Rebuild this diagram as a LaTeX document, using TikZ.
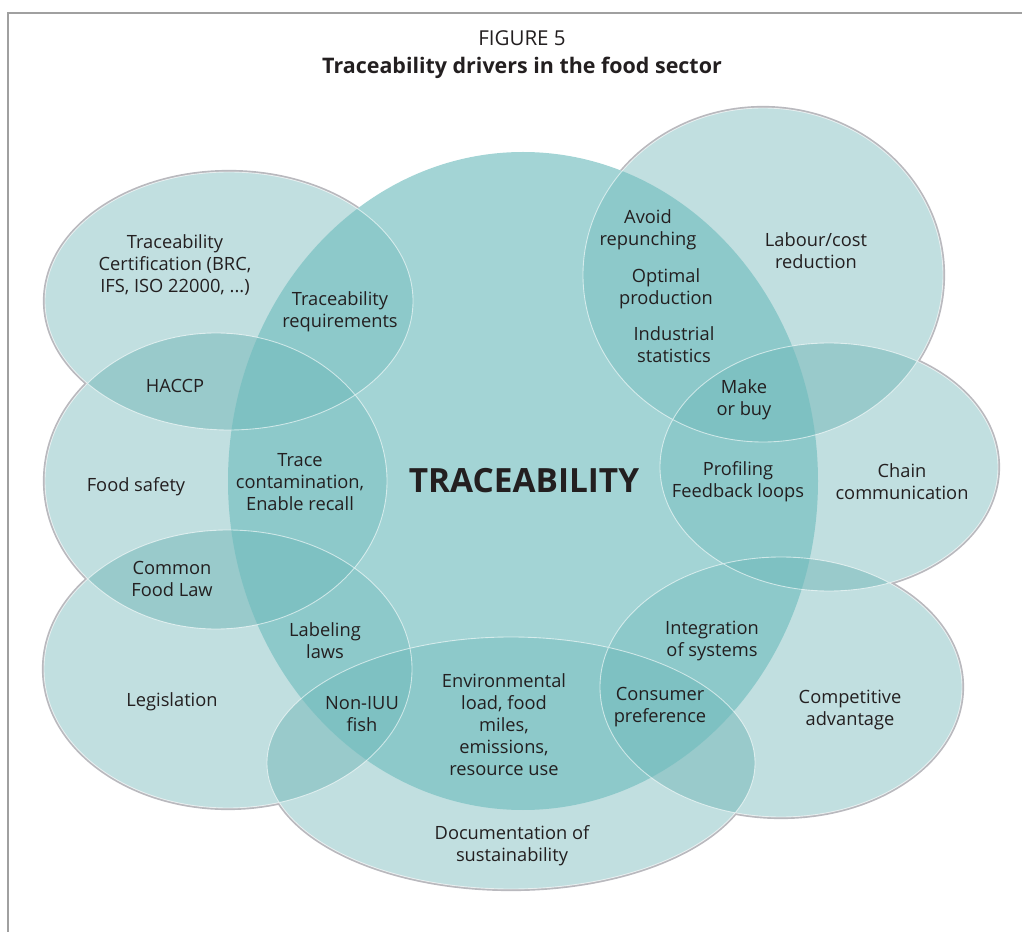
\documentclass[tikz,border=0pt]{standalone}
\usepackage{fontspec}
\setmainfont{Open Sans}
\definecolor{ringcol}{RGB}{78,165,166}
\definecolor{corecol}{RGB}{112,189,190}
\definecolor{rimgray}{RGB}{185,185,190}
\definecolor{framegray}{RGB}{160,160,160}
\definecolor{inkgray}{RGB}{35,31,32}

\begin{document}
\begin{tikzpicture}[x=0.02cm, y=-0.02cm,
    driver/.style ={align=center, text=inkgray, font=\fontsize{10.4}{12.5}\selectfont},
    rim/.style ={draw=rimgray, line width=2.4pt},
    ring/.style ={fill=ringcol, fill opacity=0.344},
    core/.style ={fill=corecol, fill opacity=0.64},
    seam/.style ={draw=white, draw opacity=0.6, line width=0.5pt}]
   \useasboundingbox (0,0) rectangle (1022,932);
   \draw[framegray, line width=1pt] (8,932) -- (8,13) -- (1022,13);

   % grey outline round the outer rings, then a white base
   \path[rim] (229,301) ellipse [x radius=184, y radius=129]
              (216,481) ellipse [x radius=171, y radius=148]
              (228,669) ellipse [x radius=184, y radius=139]
              (511,763) ellipse [x radius=244, y radius=126]
              (781,687) ellipse [x radius=181, y radius=130]
              (829,467) ellipse [x radius=169, y radius=124]
              (763,275) ellipse [x radius=180, y radius=167];
   \fill[white] (229,301) ellipse [x radius=184, y radius=129]
              (216,481) ellipse [x radius=171, y radius=148]
              (228,669) ellipse [x radius=184, y radius=139]
              (511,763) ellipse [x radius=244, y radius=126]
              (781,687) ellipse [x radius=181, y radius=130]
              (829,467) ellipse [x radius=169, y radius=124]
              (763,275) ellipse [x radius=180, y radius=167]
              (523,481) ellipse [x radius=295, y radius=329];

   \fill[ring] (229,301) ellipse [x radius=184, y radius=129];
   \fill[ring] (216,481) ellipse [x radius=171, y radius=148];
   \fill[ring] (228,669) ellipse [x radius=184, y radius=139];
   \fill[ring] (511,763) ellipse [x radius=244, y radius=126];
   \fill[ring] (781,687) ellipse [x radius=181, y radius=130];
   \fill[ring] (829,467) ellipse [x radius=169, y radius=124];
   \fill[ring] (763,275) ellipse [x radius=180, y radius=167];
   \fill[core] (523,481) ellipse [x radius=295, y radius=329];

   \path[seam] (229,301) ellipse [x radius=184, y radius=129]
              (216,481) ellipse [x radius=171, y radius=148]
              (228,669) ellipse [x radius=184, y radius=139]
              (511,763) ellipse [x radius=244, y radius=126]
              (781,687) ellipse [x radius=181, y radius=130]
              (829,467) ellipse [x radius=169, y radius=124]
              (763,275) ellipse [x radius=180, y radius=167];

   \node[driver, font=\fontsize{11.7}{14}\selectfont] (fig) at (522,38) {FIGURE 5};
   \node[driver, font=\fontsize{12.2}{14}\selectfont\bfseries] (title) at (522,68)
        {Traceability drivers in the food sector};
   \node[driver, font=\fontsize{19}{23}\selectfont\bfseries] (core) at (524,481) {TRACEABILITY};

   \node[driver] (cert) at (175,265) {Traceability\\Certification (BRC,\\IFS, ISO 22000, ...)};
   \node[driver] (req) at (340,312) {Traceability\\requirements};
   \node[driver] (haccp) at (175,386) {HACCP};
   \node[driver] (safety) at (136,487) {Food safety};
   \node[driver] (recall) at (300,482) {Trace\\contamination,\\Enable recall};
   \node[driver] (foodlaw) at (172,579) {Common\\Food Law};
   \node[driver] (labeling) at (325,641) {Labeling\\laws};
   \node[driver] (legis) at (172,702) {Legislation};
   \node[driver] (iuu) at (362,714) {Non-IUU\\fish};
   \node[driver] (envload) at (504,725) {Environmental\\load, food\\miles,\\emissions,\\resource use};
   \node[driver] (docu) at (512,846) {Documentation of\\sustainability};
   \node[driver] (integ) at (712,641) {Integration\\of systems};
   \node[driver] (consumer) at (660,707) {Consumer\\preference};
   \node[driver] (compet) at (850,710) {Competitive\\advantage};
   \node[driver] (profil) at (738,482) {Profiling\\Feedback loops};
   \node[driver] (chain) at (902,482) {Chain\\communication};
   \node[driver] (makebuy) at (744,400) {Make\\or buy};
   \node[driver] (repunch) at (648,230) {Avoid\\repunching};
   \node[driver] (optim) at (666,289) {Optimal\\production};
   \node[driver] (indstat) at (674,345) {Industrial\\statistics};
   \node[driver] (labour) at (816,251) {Labour/cost\\reduction};
\end{tikzpicture}
\end{document}
